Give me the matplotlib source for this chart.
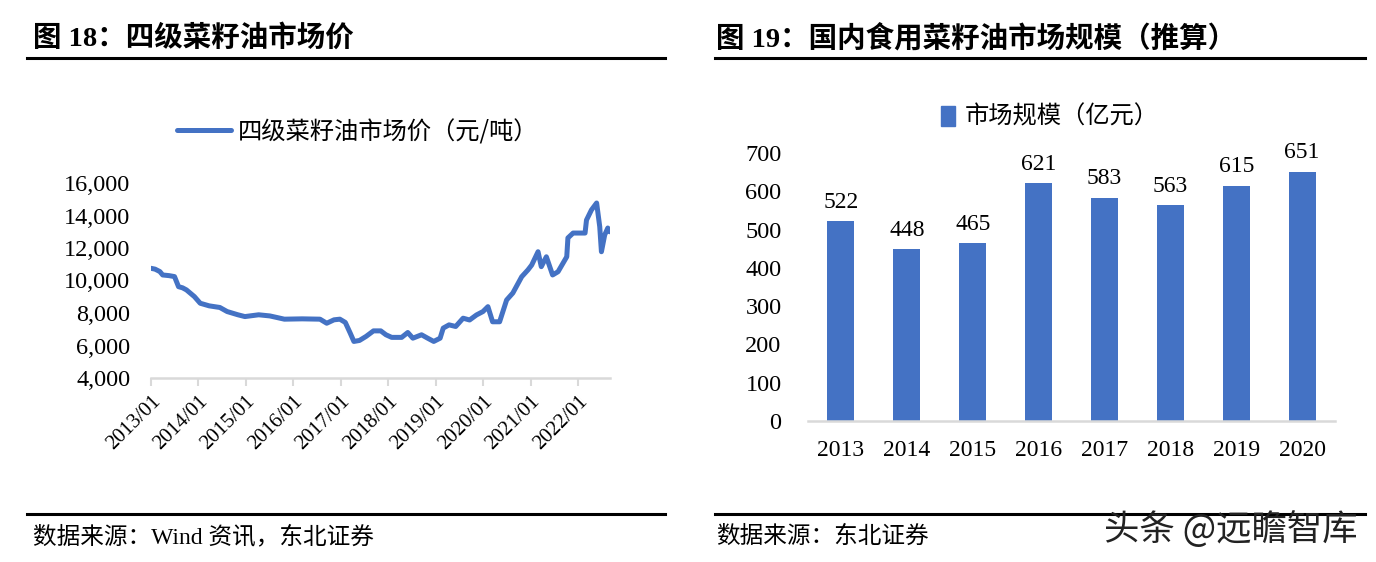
import numpy as np
import pandas as pd
import matplotlib
matplotlib.use('Agg')
import matplotlib.pyplot as plt
import matplotlib.dates as mdates
import matplotlib.transforms as mtransforms
from matplotlib.lines import Line2D
from matplotlib.patches import Patch

plt.rcParams['font.family'] = ['Liberation Serif', 'Noto Sans CJK SC']
plt.rcParams['axes.unicode_minus'] = False

# 图18 四级菜籽油市场价（元/吨），读图估计
price_dates = ['2013-01-01', '2013-02-01', '2013-03-10', '2013-04-01', '2013-05-20', '2013-07-01',
               '2013-08-01', '2013-09-01', '2013-10-01', '2013-12-01', '2014-01-15', '2014-03-25',
               '2014-06-15', '2014-08-10', '2014-11-01', '2014-12-25', '2015-04-10', '2015-07-05',
               '2015-10-25', '2016-03-10', '2016-07-25', '2016-09-15', '2016-11-10', '2016-12-25',
               '2017-02-05', '2017-03-15', '2017-04-12', '2017-05-25', '2017-07-15', '2017-09-10',
               '2017-11-05', '2017-12-15', '2018-01-28', '2018-04-15', '2018-06-01', '2018-07-10',
               '2018-09-15', '2018-11-01', '2018-12-18', '2019-02-05', '2019-03-01', '2019-04-15',
               '2019-06-05', '2019-08-01', '2019-09-20', '2019-11-12', '2020-01-01', '2020-02-08',
               '2020-03-15', '2020-05-08', '2020-07-01', '2020-08-18', '2020-10-25', '2020-12-12',
               '2021-01-10', '2021-02-28', '2021-03-25', '2021-05-03', '2021-06-20', '2021-08-01',
               '2021-10-07', '2021-10-16', '2021-11-25', '2022-02-25', '2022-03-08', '2022-04-15',
               '2022-05-25', '2022-06-18', '2022-07-01', '2022-07-26', '2022-08-19', '2022-09-03']
price_values = [10750, 10700, 10550, 10340, 10300, 10240,
                9620, 9550, 9420, 9010, 8600, 8440,
                8340, 8090, 7890, 7780, 7890, 7820,
                7620, 7640, 7620, 7370, 7580, 7620,
                7420, 6760, 6250, 6310, 6560, 6900,
                6900, 6660, 6500, 6500, 6800, 6450,
                6660, 6450, 6250, 6450, 7070, 7270,
                7170, 7680, 7570, 7880, 8090, 8390,
                7460, 7460, 8800, 9230, 10230, 10650,
                10950, 11770, 10850, 11460, 10340, 10540,
                11460, 12620, 12920, 12920, 13720, 14340,
                14770, 13310, 11770, 12800, 13230, 13000]
price_label = '四级菜籽油市场价（元/吨）'
price_yticks = [4000, 6000, 8000, 10000, 12000, 14000, 16000]

# 图19 国内食用菜籽油市场规模（亿元）
years = ['2013', '2014', '2015', '2016', '2017', '2018', '2019', '2020']
market_size = [522, 448, 465, 621, 583, 563, 615, 651]
market_label = '市场规模（亿元）'
market_yticks = [0, 100, 200, 300, 400, 500, 600, 700]

blue = '#4472C4'
W, H = 1376, 562
fig = plt.figure(figsize=(W / 100, H / 100), dpi=100)


def fx(px):
    return px / W


def fy(py):
    return 1 - py / H


# ---- 标题、分隔线、来源 ----
for x0, x1 in [(27, 665), (715, 1365)]:
    for yy in [58, 514]:
        fig.add_artist(Line2D([fx(x0), fx(x1)], [fy(yy), fy(yy)], color='black', lw=2.2))

fig.text(fx(33), fy(38), '图 18：四级菜籽油市场价', fontsize=20.5, fontweight='bold', va='center')
fig.text(fx(716), fy(38), '图 19：国内食用菜籽油市场规模（推算）', fontsize=20.5, fontweight='bold', va='center')
fig.text(fx(33), fy(537), '数据来源：Wind 资讯，东北证券', fontsize=17, va='center')
fig.text(fx(716), fy(537), '数据来源：东北证券', fontsize=17, va='center')
fig.text(fx(1104), fy(530), '头条 @远瞻智库', fontsize=25.5, va='center',
         family=['Noto Sans CJK SC'], color='#222222')

# ---- 左图：价格折线 ----
ax1 = fig.add_axes([fx(151), fy(378), fx(610 - 151), (378 - 183) / H])
dates = pd.to_datetime(price_dates)
ax1.plot(dates, price_values, color=blue, lw=3.6, label=price_label,
         solid_joinstyle='round', solid_capstyle='round')
ax1.set_ylim(4000, 16000)
ax1.set_yticks(price_yticks)
ax1.set_yticklabels([f'{v:,}' for v in price_yticks], fontsize=17.5)
ax1.set_xlim(pd.Timestamp('2013-01-01'), pd.Timestamp('2022-09-05'))
ax1.set_xticks(pd.date_range('2013-01-01', '2022-01-01', freq='YS'))
ax1.xaxis.set_major_formatter(mdates.DateFormatter('%Y/%m'))
shift = mtransforms.ScaledTranslation(-6 / 100, 0, fig.dpi_scale_trans)
for lab in ax1.get_xticklabels():
    lab.set_rotation(45)
    lab.set_ha('right')
    lab.set_rotation_mode('anchor')
    lab.set_fontsize(15)
    lab.set_transform(lab.get_transform() + shift)
ax1.tick_params(axis='y', length=0, pad=15)
ax1.tick_params(axis='x', length=6, width=1.5, color='#d9d9d9', direction='out', pad=4)
for s in ['top', 'right', 'left']:
    ax1.spines[s].set_visible(False)
ax1.spines['bottom'].set_color('#d9d9d9')
ax1.spines['bottom'].set_linewidth(1.8)
ax1.legend(loc='center', bbox_to_anchor=(fx(358), fy(132)), bbox_transform=fig.transFigure,
           frameon=False, handlelength=2.2, handletextpad=0.3,
           prop={'family': ['Noto Sans CJK SC'], 'size': 17.5})

# ---- 右图：市场规模柱状图 ----
ax2 = fig.add_axes([fx(808), fy(421), fx(1335 - 808), (421 - 153) / H])
xpos = np.arange(len(years))
bars = ax2.bar(xpos, market_size, width=0.41, color=blue, label=market_label)
for b, v in zip(bars, market_size):
    ax2.text(b.get_x() + b.get_width() / 2, v + 22, str(v), ha='center', va='bottom', fontsize=17)
ax2.set_xlim(-0.5, len(years) - 0.5)
ax2.set_ylim(0, 700)
ax2.set_yticks(market_yticks)
ax2.set_yticklabels([str(v) for v in market_yticks], fontsize=17.5)
ax2.set_xticks(xpos)
ax2.set_xticklabels(years, fontsize=17)
ax2.tick_params(axis='y', length=0, pad=19)
ax2.tick_params(axis='x', length=0, pad=14)
for s in ['top', 'right', 'left']:
    ax2.spines[s].set_visible(False)
ax2.spines['bottom'].set_color('#d9d9d9')
ax2.spines['bottom'].set_linewidth(1.8)
ax2.legend(handles=[Patch(color=blue, label=market_label)], loc='center',
           bbox_to_anchor=(fx(1050), fy(117)), bbox_transform=fig.transFigure,
           frameon=False, handlelength=0.6, handleheight=0.9, handletextpad=0.4,
           prop={'family': ['Noto Sans CJK SC'], 'size': 17.5})

fig.savefig('out.png', dpi=100)
